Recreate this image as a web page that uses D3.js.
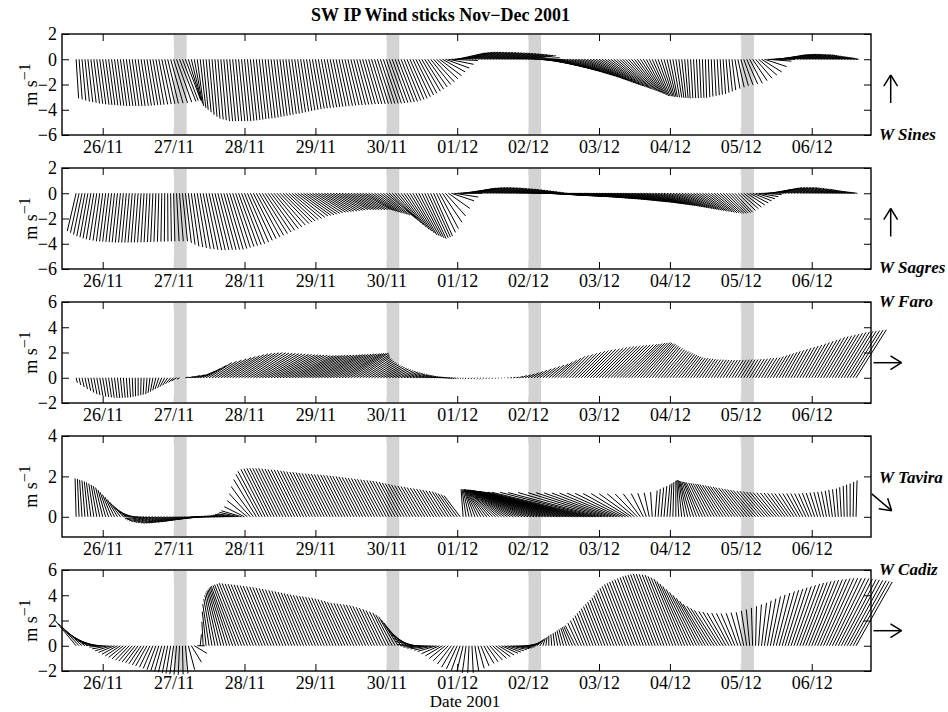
<!DOCTYPE html>
<html>
<head>
<meta charset="utf-8">
<script src="https://cdn.jsdelivr.net/npm/d3@7"></script>
<style>
  body { margin: 0; background: #fff; }
  svg { font-family: "Liberation Serif", "Times New Roman", serif; }
</style>
</head>
<body>
<div class="chart"></div>
<script>
// x axis: day-of-November numbers (31 = 01/12)
const tickDays = [26, 27, 28, 29, 30, 31, 32, 33, 34, 35, 36]
const tickLabels = ["26/11", "27/11", "28/11", "29/11", "30/11", "01/12", "02/12", "03/12", "04/12", "05/12", "06/12"]
const barDays = [27, 30, 32, 35]   // grey bands
const barLength = 0.19             // days
const firstSample = 25 + 15 / 24   // 25/11 15:00, hourly sticks

const stationNames = ["W Sines", "W Sagres", "W Faro", "W Tavira", "W Cadiz"]

// hourly wind components, m/s (u east, v north)
const sinesU = [
  0.2,0.25,0.3,0.35,0.38,0.42,0.45,0.47,0.48,
  0.5,0.5,0.5,0.5,0.5,0.5,0.5,0.51,0.52,0.52,0.53,0.54,0.55,0.57,0.58,0.6,0.62,0.63,0.65,0.7,0.75,0.8,0.85,0.98,
  1.1,1.2,1.3,1.25,1.2,1.0,0.8,0.65,0.5,0.45,0.4,0.4,0.4,0.4,0.4,0.42,0.43,0.45,0.46,0.46,0.47,0.48,0.49,0.49,
  0.5,0.51,0.51,0.52,0.52,0.53,0.53,0.54,0.55,0.56,0.56,0.57,0.57,0.58,0.58,0.59,0.6,0.61,0.62,0.64,0.65,0.66,0.67,0.69,
  0.7,0.71,0.72,0.74,0.75,0.76,0.77,0.79,0.8,0.83,0.85,0.88,0.9,0.93,0.95,0.98,1.0,1.03,1.05,1.08,1.1,1.13,1.15,1.18,
  1.2,1.22,1.24,1.26,1.28,1.3,1.32,1.34,1.36,1.38,1.4,1.43,1.47,1.5,1.55,1.6,1.65,1.7,1.75,1.8,1.9,2.0,2.1,2.2,
  2.23,2.27,2.3,2.3,2.3,2.3,2.3,2.3,2.3,2.3,2.3,2.3,2.29,2.28,2.28,2.27,2.26,2.25,2.25,2.24,2.23,2.22,2.22,2.21,
  2.2,2.27,2.33,2.4,2.47,2.53,2.6,2.67,2.73,2.8,2.87,2.93,3.0,3.03,3.07,3.1,3.13,3.17,3.2,3.17,3.13,3.1,3.07,3.03,
  3.0,2.93,2.87,2.8,2.73,2.67,2.6,2.5,2.4,2.3,2.2,2.1,2.0,1.88,1.77,1.65,1.53,1.42,1.3,1.18,1.07,0.95,0.83,0.72,
  0.6,0.53,0.47,0.4,0.33,0.27,0.2,0.18,0.17,0.15,0.13,0.12,0.1,0.12,0.13,0.15,0.17,0.18,0.2,0.23,0.27,0.3,0.4,0.5,
  0.6,0.73,0.87,1.0,1.15,1.3,1.45,1.6,1.75,1.9,1.95,2.0,2.05,2.1,2.08,2.05,2.03,2.0,1.96,1.91,1.87,1.83,1.79,1.74,
  1.7,1.62,1.53,1.45,1.37,1.28,1.2,1.1,1.0,0.9,0.8,0.7,0.58,0.45,0.33,0.2
]
const sinesV = [
  -3.1,-3.18,-3.27,-3.35,-3.4,-3.45,-3.5,-3.53,-3.57,
  -3.6,-3.62,-3.63,-3.65,-3.67,-3.68,-3.7,-3.7,-3.7,-3.7,-3.7,-3.7,-3.7,-3.68,-3.67,-3.65,-3.63,-3.62,-3.6,-3.58,-3.55,-3.53,-3.5,-3.48,
  -3.45,-3.4,-3.35,-3.28,-3.2,-3.25,-3.3,-3.5,-3.7,-3.85,-4.0,-4.2,-4.4,-4.55,-4.7,-4.77,-4.83,-4.9,-4.9,-4.9,-4.9,-4.9,-4.9,-4.9,
  -4.9,-4.87,-4.84,-4.81,-4.78,-4.74,-4.71,-4.68,-4.65,-4.61,-4.56,-4.52,-4.48,-4.43,-4.39,-4.34,-4.3,-4.25,-4.2,-4.15,-4.1,-4.05,-4.0,-3.95,
  -3.9,-3.88,-3.85,-3.83,-3.8,-3.78,-3.75,-3.73,-3.7,-3.68,-3.66,-3.64,-3.63,-3.61,-3.59,-3.57,-3.55,-3.54,-3.54,-3.53,-3.52,-3.52,-3.51,-3.5,
  -3.5,-3.47,-3.44,-3.41,-3.38,-3.35,-3.27,-3.18,-3.1,-2.97,-2.83,-2.7,-2.53,-2.37,-2.2,-2.0,-1.8,-1.55,-1.3,-1.0,-0.7,-0.4,-0.1,0.25,
  0.5,0.52,0.55,0.56,0.56,0.56,0.55,0.55,0.54,0.54,0.53,0.52,0.51,0.5,0.49,0.48,0.46,0.45,0.43,0.41,0.39,0.37,0.34,0.31,
  0.28,0.12,-0.02,-0.15,-0.27,-0.38,-0.5,-0.58,-0.67,-0.75,-0.83,-0.92,-1.0,-1.08,-1.17,-1.25,-1.33,-1.42,-1.5,-1.58,-1.65,-1.73,-1.8,-1.88,
  -1.95,-2.01,-2.07,-2.13,-2.18,-2.24,-2.3,-2.35,-2.4,-2.45,-2.5,-2.55,-2.6,-2.65,-2.7,-2.75,-2.8,-2.85,-2.9,-2.92,-2.93,-2.95,-2.97,-2.98,
  -3.0,-3.02,-3.03,-3.05,-3.07,-3.08,-3.1,-3.09,-3.08,-3.08,-3.07,-3.06,-3.05,-3.0,-2.95,-2.9,-2.85,-2.8,-2.75,-2.65,-2.55,-2.45,-2.33,-2.22,
  -2.1,-2.03,-1.97,-1.9,-1.7,-1.5,-1.25,-1.0,-0.58,-0.15,0.0,0.15,0.25,0.35,0.36,0.38,0.39,0.4,0.39,0.39,0.38,0.37,0.36,0.36,
  0.35,0.32,0.3,0.27,0.25,0.22,0.2,0.18,0.16,0.14,0.12,0.1,0.08,0.05,0.03,0.0
]
const sagresU = [
  -0.7,-0.68,-0.67,-0.65,-0.63,-0.62,-0.6,-0.57,-0.53,
  -0.5,-0.48,-0.47,-0.45,-0.43,-0.42,-0.4,-0.38,-0.37,-0.35,-0.33,-0.32,-0.3,-0.28,-0.25,-0.23,-0.2,-0.18,-0.15,-0.11,-0.07,-0.03,0.02,0.06,
  0.1,0.2,0.3,0.4,0.47,0.53,0.6,0.67,0.73,0.8,0.87,0.93,1.0,1.05,1.1,1.15,1.2,1.25,1.3,1.35,1.4,1.45,1.5,1.55,
  1.6,1.67,1.73,1.8,1.87,1.93,2.0,2.05,2.1,2.15,2.2,2.25,2.3,2.32,2.33,2.35,2.37,2.38,2.4,2.4,2.4,2.4,2.4,2.4,
  2.4,2.39,2.38,2.36,2.35,2.34,2.33,2.31,2.3,2.29,2.28,2.26,2.25,2.24,2.23,2.21,2.2,2.19,2.18,2.16,2.15,2.14,2.13,2.11,
  2.1,2.08,2.06,2.04,2.02,2.0,1.98,1.95,1.93,1.9,1.85,1.8,1.75,1.7,1.63,1.57,1.5,1.5,1.5,1.55,1.6,1.7,1.8,1.9,
  2.0,2.05,2.1,2.11,2.12,2.13,2.14,2.16,2.17,2.18,2.19,2.2,2.21,2.22,2.22,2.23,2.24,2.25,2.25,2.26,2.27,2.28,2.28,2.29,
  2.3,2.33,2.36,2.39,2.41,2.44,2.47,2.5,2.53,2.56,2.59,2.62,2.65,2.68,2.71,2.74,2.77,2.8,2.82,2.84,2.86,2.88,2.9,2.92,
  2.94,2.96,2.98,3.0,3.0,3.0,3.0,3.0,3.0,3.0,3.0,3.0,3.0,3.0,2.94,2.88,2.82,2.76,2.7,2.64,2.58,2.52,2.46,2.4,
  2.36,2.32,2.28,2.24,2.2,2.16,2.12,2.08,2.04,2.0,1.97,1.93,1.9,1.87,1.83,1.8,1.75,1.7,1.65,1.6,1.53,1.47,1.4,1.4,
  1.4,1.4,1.43,1.47,1.5,1.53,1.57,1.6,1.63,1.67,1.7,1.73,1.77,1.8,1.8,1.8,1.8,1.8,1.8,1.77,1.73,1.7,1.67,1.63,
  1.6,1.52,1.43,1.35,1.27,1.18,1.1,1.0,0.9,0.8,0.7,0.6,0.48,0.35,0.23,0.1
]
const sagresV = [
  -3.0,-3.13,-3.27,-3.4,-3.48,-3.57,-3.65,-3.7,-3.75,
  -3.8,-3.82,-3.83,-3.85,-3.87,-3.88,-3.9,-3.9,-3.9,-3.9,-3.9,-3.9,-3.9,-3.89,-3.88,-3.88,-3.87,-3.86,-3.85,-3.84,-3.83,-3.83,-3.82,-3.81,
  -3.8,-3.8,-3.8,-3.8,-3.93,-4.07,-4.2,-4.27,-4.33,-4.4,-4.43,-4.47,-4.5,-4.5,-4.49,-4.48,-4.47,-4.46,-4.45,-4.38,-4.3,-4.23,-4.15,-4.08,
  -4.0,-3.87,-3.73,-3.6,-3.47,-3.33,-3.2,-3.07,-2.93,-2.8,-2.67,-2.53,-2.4,-2.3,-2.2,-2.1,-2.0,-1.9,-1.8,-1.75,-1.7,-1.65,-1.6,-1.55,
  -1.5,-1.48,-1.45,-1.43,-1.4,-1.38,-1.35,-1.33,-1.3,-1.3,-1.3,-1.3,-1.3,-1.3,-1.3,-1.3,-1.3,-1.36,-1.43,-1.49,-1.56,-1.61,-1.67,-1.74,
  -1.8,-1.98,-2.16,-2.34,-2.52,-2.7,-2.85,-3.0,-3.15,-3.3,-3.38,-3.45,-3.53,-3.6,-3.53,-3.47,-3.4,-3.1,-2.8,-2.3,-1.8,-1.2,-0.6,-0.3,
  0.0,0.15,0.3,0.36,0.4,0.42,0.44,0.45,0.45,0.45,0.44,0.43,0.42,0.4,0.38,0.36,0.34,0.32,0.3,0.27,0.24,0.21,0.18,0.15,
  0.12,0.08,0.04,0.0,-0.04,-0.08,-0.11,-0.15,-0.17,-0.18,-0.2,-0.21,-0.23,-0.24,-0.26,-0.27,-0.29,-0.3,-0.32,-0.34,-0.36,-0.38,-0.4,-0.42,
  -0.44,-0.46,-0.48,-0.5,-0.53,-0.55,-0.58,-0.6,-0.63,-0.65,-0.68,-0.7,-0.73,-0.75,-0.78,-0.8,-0.83,-0.85,-0.88,-0.9,-0.93,-0.95,-0.98,-1.0,
  -1.04,-1.07,-1.11,-1.14,-1.18,-1.21,-1.25,-1.28,-1.32,-1.35,-1.38,-1.42,-1.45,-1.48,-1.52,-1.55,-1.56,-1.58,-1.59,-1.6,-1.57,-1.53,-1.5,-1.37,
  -1.23,-1.1,-0.93,-0.77,-0.6,-0.43,-0.27,-0.1,0.03,0.17,0.3,0.35,0.4,0.45,0.45,0.45,0.45,0.45,0.45,0.43,0.4,0.38,0.35,0.33,
  0.3,0.28,0.25,0.23,0.2,0.18,0.15,0.13,0.12,0.1,0.08,0.07,0.05,0.03,0.02,0.0
]
const faroU = [
  0.1,0.13,0.17,0.2,0.22,0.23,0.25,0.25,0.25,
  0.25,0.24,0.23,0.21,0.2,0.18,0.16,0.14,0.12,0.1,0.07,0.03,0.0,-0.03,-0.07,-0.1,-0.15,-0.2,-0.25,-0.3,-0.33,-0.37,-0.4,-0.4,
  -0.4,-0.4,-0.2,0.0,0.25,0.5,0.67,0.83,1.0,1.2,1.4,1.6,1.8,1.95,2.1,2.25,2.4,2.5,2.6,2.7,2.8,2.85,2.9,2.95,
  3.0,3.03,3.05,3.08,3.1,3.13,3.15,3.18,3.2,3.21,3.23,3.24,3.25,3.26,3.28,3.29,3.3,3.3,3.3,3.3,3.3,3.3,3.3,3.3,
  3.3,3.29,3.28,3.26,3.25,3.24,3.23,3.21,3.2,3.15,3.1,3.05,3.0,2.8,2.6,2.4,2.27,2.13,2.0,1.9,1.8,1.7,1.6,1.53,
  1.45,1.38,1.3,1.25,1.2,1.15,1.1,1.05,1.0,0.95,0.9,0.84,0.78,0.72,0.66,0.6,0.55,0.5,0.45,0.4,0.35,0.3,0.23,0.17,
  0.1,0.03,-0.03,-0.1,-0.1,-0.1,-0.1,-0.1,-0.1,-0.1,-0.08,-0.07,-0.05,-0.03,-0.02,0.0,0.04,0.08,0.12,0.16,0.2,0.28,0.35,0.43,
  0.5,0.6,0.7,0.8,0.9,1.0,1.1,1.2,1.3,1.4,1.5,1.6,1.7,1.78,1.86,1.94,2.02,2.1,2.16,2.21,2.27,2.33,2.39,2.44,
  2.5,2.53,2.55,2.58,2.6,2.63,2.65,2.68,2.7,2.68,2.66,2.64,2.62,2.6,2.5,2.4,2.3,2.2,2.1,2.0,1.93,1.87,1.8,1.73,
  1.65,1.58,1.5,1.43,1.35,1.28,1.2,1.17,1.13,1.1,1.07,1.03,1.0,0.99,0.97,0.96,0.94,0.93,0.91,0.9,0.9,0.9,0.9,0.9,
  0.9,0.9,0.9,0.91,0.93,0.94,0.96,0.97,0.99,1.0,1.03,1.07,1.1,1.13,1.17,1.2,1.25,1.3,1.35,1.4,1.45,1.5,1.57,1.63,
  1.7,1.77,1.83,1.9,1.95,2.0,2.05,2.1,2.15,2.2,2.23,2.27,2.3,2.33,2.37,2.4
]
const faroV = [
  -0.4,-0.57,-0.73,-0.9,-1.03,-1.17,-1.3,-1.37,-1.43,
  -1.5,-1.53,-1.55,-1.58,-1.6,-1.6,-1.59,-1.58,-1.57,-1.55,-1.51,-1.47,-1.43,-1.38,-1.34,-1.3,-1.2,-1.1,-1.0,-0.9,-0.8,-0.7,-0.6,-0.48,
  -0.37,-0.25,-0.12,0.0,0.05,0.1,0.17,0.23,0.3,0.53,0.75,0.98,1.2,1.3,1.4,1.5,1.6,1.68,1.75,1.83,1.9,1.93,1.95,1.98,
  2.0,1.98,1.96,1.94,1.93,1.91,1.89,1.87,1.85,1.84,1.82,1.81,1.8,1.79,1.78,1.76,1.75,1.76,1.76,1.77,1.78,1.78,1.79,1.79,
  1.8,1.81,1.83,1.84,1.85,1.86,1.88,1.89,1.9,1.91,1.93,1.94,1.95,1.83,1.72,1.6,1.5,1.4,1.3,1.21,1.13,1.04,0.95,0.89,
  0.83,0.76,0.7,0.64,0.57,0.51,0.45,0.4,0.35,0.3,0.25,0.22,0.18,0.15,0.11,0.08,0.06,0.04,0.02,0.0,-0.03,-0.05,-0.06,-0.07,
  -0.08,-0.08,-0.09,-0.1,-0.1,-0.1,-0.1,-0.1,-0.1,-0.1,-0.09,-0.08,-0.08,-0.07,-0.06,-0.05,-0.03,-0.01,0.01,0.03,0.05,0.11,0.18,0.24,
  0.3,0.4,0.5,0.6,0.7,0.8,0.9,1.0,1.1,1.25,1.4,1.55,1.7,1.78,1.86,1.94,2.02,2.1,2.15,2.2,2.25,2.3,2.35,2.4,
  2.45,2.48,2.5,2.53,2.55,2.58,2.6,2.63,2.65,2.68,2.71,2.74,2.77,2.8,2.75,2.7,2.65,2.57,2.48,2.4,2.32,2.23,2.15,2.08,
  2.0,1.93,1.85,1.79,1.72,1.66,1.6,1.57,1.55,1.52,1.5,1.47,1.45,1.44,1.43,1.42,1.41,1.4,1.4,1.4,1.41,1.41,1.42,1.43,
  1.44,1.44,1.45,1.47,1.49,1.51,1.54,1.56,1.58,1.6,1.68,1.77,1.85,1.93,2.02,2.1,2.18,2.27,2.35,2.43,2.52,2.6,2.7,2.8,
  2.9,3.0,3.1,3.2,3.27,3.33,3.4,3.47,3.53,3.6,3.63,3.67,3.7,3.73,3.77,3.8
]
const taviraU = [
  -0.05,-0.08,-0.12,-0.15,-0.18,-0.22,-0.25,-0.28,-0.32,
  -0.35,-0.38,-0.42,-0.45,-0.48,-0.5,-0.53,-0.55,-0.58,-0.6,-0.63,-0.65,-0.72,-0.8,-0.84,-0.88,-0.92,-0.96,-1.0,-1.02,-1.03,-1.05,-1.07,-1.08,
  -1.1,-1.08,-1.07,-1.05,-1.03,-1.02,-1.0,-0.98,-0.97,-0.95,-0.93,-0.92,-0.9,-0.88,-0.87,-0.85,-0.83,-0.82,-0.8,-0.83,-0.87,-0.9,-0.95,-1.0,
  -1.0,-1.0,-1.05,-1.1,-1.12,-1.15,-1.2,-1.2,-1.2,-1.2,-1.2,-1.2,-1.2,-1.2,-1.19,-1.18,-1.18,-1.17,-1.16,-1.15,-1.14,-1.14,-1.13,-1.12,
  -1.12,-1.11,-1.11,-1.1,-1.09,-1.09,-1.08,-1.08,-1.07,-1.06,-1.06,-1.05,-1.04,-1.04,-1.03,-1.03,-1.02,-1.01,-1.01,-1.0,-0.99,-0.99,-0.98,-0.98,
  -0.97,-0.96,-0.96,-0.95,-0.94,-0.93,-0.93,-0.92,-0.91,-0.9,-0.89,-0.88,-0.88,-0.87,-0.86,-0.85,-0.84,-0.83,-0.83,-0.82,-0.81,-0.8,-0.8,-0.8,
  -0.8,-0.8,-0.1,-0.2,-0.3,-0.4,-0.52,-0.65,-0.77,-0.9,-1.02,-1.15,-1.27,-1.4,-1.52,-1.65,-1.77,-1.9,-2.02,-2.15,-2.27,-2.4,-2.52,-2.65,
  -2.77,-2.9,-3.02,-3.15,-3.27,-3.4,-3.52,-3.65,-3.77,-3.9,-4.02,-4.15,-4.27,-4.4,-4.52,-4.63,-4.74,-4.85,-4.93,-5.02,-5.1,-5.07,-5.0,-4.75,
  -4.5,-4.15,-3.8,-3.55,-3.3,-3.07,-2.83,-2.6,-2.35,-2.1,-1.85,-1.6,-1.35,-1.1,-0.85,-0.6,-0.42,-0.25,-0.08,0.1,0.11,0.13,0.14,0.15,
  0.1,0.05,0.0,-0.1,-0.2,-0.3,-0.4,-0.5,-0.58,-0.65,-0.73,-0.8,-0.83,-0.87,-0.9,-0.93,-0.97,-1.0,-1.02,-1.03,-1.05,-1.07,-1.08,-1.1,
  -1.1,-1.1,-1.1,-1.1,-1.1,-1.1,-1.08,-1.07,-1.05,-1.03,-1.02,-1.0,-0.97,-0.93,-0.9,-0.87,-0.83,-0.8,-0.75,-0.7,-0.65,-0.6,-0.55,-0.5,
  -0.46,-0.42,-0.38,-0.33,-0.29,-0.25,-0.21,-0.18,-0.14,-0.1,-0.08,-0.05,-0.03,0.0,0.03,0.05
]
const taviraV = [
  1.9,1.87,1.83,1.8,1.75,1.7,1.65,1.58,1.52,
  1.45,1.33,1.22,1.1,0.98,0.85,0.73,0.6,0.48,0.35,0.23,0.1,0.0,-0.1,-0.15,-0.2,-0.23,-0.25,-0.28,-0.29,-0.31,-0.32,-0.31,-0.31,
  -0.3,-0.28,-0.27,-0.25,-0.23,-0.2,-0.18,-0.15,-0.13,-0.1,-0.07,-0.03,0.0,0.01,0.01,0.02,0.03,0.04,0.05,0.08,0.12,0.15,0.22,0.3,
  0.5,0.8,1.15,1.5,1.85,2.1,2.25,2.35,2.38,2.4,2.4,2.4,2.4,2.4,2.38,2.37,2.35,2.33,2.32,2.3,2.28,2.26,2.24,2.22,
  2.21,2.19,2.17,2.15,2.14,2.13,2.11,2.1,2.09,2.08,2.06,2.05,2.03,2.01,2.0,1.98,1.96,1.94,1.92,1.9,1.88,1.86,1.84,1.82,
  1.81,1.79,1.77,1.75,1.72,1.68,1.65,1.62,1.58,1.55,1.53,1.5,1.48,1.45,1.43,1.4,1.38,1.35,1.33,1.3,1.28,1.25,1.2,1.15,
  1.1,1.05,1.36,1.36,1.36,1.36,1.36,1.35,1.35,1.35,1.34,1.34,1.34,1.33,1.33,1.33,1.32,1.32,1.32,1.31,1.31,1.31,1.3,1.3,
  1.3,1.29,1.29,1.29,1.28,1.28,1.28,1.27,1.27,1.27,1.26,1.26,1.26,1.25,1.25,1.25,1.24,1.24,1.23,1.23,1.22,1.22,1.21,1.21,
  1.2,1.2,1.19,1.19,1.18,1.18,1.17,1.17,1.16,1.15,1.15,1.14,1.14,1.13,1.14,1.15,1.17,1.19,1.22,1.3,1.38,1.45,1.52,1.6,
  1.66,1.72,1.78,1.8,1.82,1.8,1.77,1.75,1.74,1.73,1.71,1.7,1.68,1.67,1.65,1.63,1.62,1.6,1.58,1.55,1.53,1.5,1.48,1.45,
  1.43,1.4,1.38,1.35,1.33,1.3,1.28,1.27,1.25,1.23,1.22,1.2,1.19,1.18,1.18,1.17,1.16,1.15,1.15,1.15,1.15,1.15,1.15,1.15,
  1.17,1.18,1.2,1.22,1.23,1.25,1.29,1.33,1.36,1.4,1.46,1.53,1.59,1.65,1.73,1.8
]
const cadizU = [
  -1.66,-1.63,-1.6,-1.6,-1.6,-1.55,-1.5,-1.45,-1.4,
  -1.35,-1.3,-1.3,-1.3,-1.27,-1.23,-1.2,-1.17,-1.13,-1.1,-1.07,-1.03,-1.0,-0.97,-0.93,-0.9,-0.83,-0.77,-0.7,-0.63,-0.57,-0.5,-0.43,-0.37,
  -0.3,-0.2,-0.1,0.05,0.2,0.5,0.8,1.0,0.6,0.1,-0.1,-0.3,-0.5,-0.65,-0.8,-0.95,-1.1,-1.25,-1.4,-1.55,-1.7,-1.8,-1.9,-1.95,
  -2.0,-2.0,-2.0,-2.0,-2.0,-2.0,-2.0,-1.98,-1.97,-1.95,-1.93,-1.92,-1.9,-1.88,-1.87,-1.85,-1.83,-1.82,-1.8,-1.79,-1.78,-1.78,-1.77,-1.76,
  -1.75,-1.74,-1.73,-1.73,-1.72,-1.71,-1.7,-1.68,-1.67,-1.65,-1.63,-1.62,-1.6,-1.58,-1.57,-1.55,-1.53,-1.52,-1.5,-1.48,-1.45,-1.43,-1.4,-1.37,
  -1.33,-1.3,-1.3,-1.3,-1.33,-1.35,-1.4,-1.45,-1.53,-1.6,-1.65,-1.7,-1.7,-1.7,-1.65,-1.6,-1.55,-1.5,-1.43,-1.35,-1.28,-1.2,-1.1,-1.0,
  -0.85,-0.7,-0.5,-0.3,-0.1,0.1,0.3,0.5,0.65,0.8,0.9,1.0,1.1,1.17,1.23,1.3,1.3,1.3,1.3,1.27,1.23,1.2,1.1,1.0,
  0.9,0.8,0.65,0.5,0.35,0.2,0.1,0.0,-0.07,-0.13,-0.2,-0.28,-0.37,-0.45,-0.57,-0.68,-0.8,-0.83,-0.87,-0.9,-0.97,-1.03,-1.1,-1.17,
  -1.23,-1.3,-1.37,-1.43,-1.5,-1.58,-1.67,-1.75,-1.8,-1.85,-1.9,-1.93,-1.97,-2.0,-2.03,-2.05,-2.08,-2.1,-2.13,-2.15,-2.18,-2.2,-2.2,-2.2,
  -2.2,-2.2,-2.2,-2.2,-2.2,-2.2,-2.2,-2.2,-2.17,-2.13,-2.1,-2.07,-2.03,-2.0,-1.93,-1.87,-1.8,-1.7,-1.6,-1.5,-1.37,-1.23,-1.1,-0.93,
  -0.77,-0.6,-0.43,-0.27,-0.1,0.07,0.23,0.4,0.53,0.67,0.8,0.93,1.07,1.2,1.3,1.4,1.5,1.6,1.7,1.8,1.87,1.93,2.0,2.07,
  2.13,2.2,2.27,2.33,2.4,2.47,2.53,2.6,2.65,2.7,2.75,2.78,2.82,2.85,2.86,2.87
]
const cadizV = [
  2.0,1.75,1.5,1.25,1.0,0.78,0.55,0.38,0.2,
  0.05,-0.1,-0.25,-0.4,-0.53,-0.67,-0.8,-0.92,-1.03,-1.15,-1.22,-1.28,-1.35,-1.43,-1.52,-1.6,-1.7,-1.8,-1.9,-1.97,-2.03,-2.1,-2.15,-2.2,
  -2.25,-2.28,-2.3,-2.27,-2.2,-1.9,-1.3,-0.6,0.0,0.9,1.9,2.7,3.3,3.7,4.0,4.2,4.35,4.45,4.55,4.65,4.72,4.78,4.84,4.9,
  4.95,4.93,4.9,4.88,4.85,4.83,4.8,4.77,4.73,4.7,4.67,4.63,4.6,4.55,4.5,4.45,4.4,4.35,4.3,4.25,4.2,4.15,4.1,4.05,
  4.0,3.97,3.93,3.9,3.87,3.83,3.8,3.73,3.67,3.6,3.53,3.47,3.4,3.37,3.33,3.3,3.27,3.23,3.2,3.13,3.05,2.98,2.9,2.8,
  2.7,2.6,2.45,2.3,2.05,1.8,1.5,1.2,0.9,0.6,0.35,0.1,0.0,-0.1,-0.18,-0.25,-0.35,-0.45,-0.63,-0.8,-1.0,-1.2,-1.45,-1.7,
  -1.83,-1.95,-2.05,-2.15,-2.15,-2.15,-2.0,-1.8,-1.6,-1.4,-1.27,-1.13,-1.0,-0.87,-0.73,-0.6,-0.5,-0.4,-0.3,-0.23,-0.17,-0.1,0.0,0.1,
  0.2,0.3,0.4,0.5,0.55,0.6,0.7,0.8,0.9,1.0,1.1,1.2,1.3,1.4,1.47,1.53,1.6,1.8,2.0,2.2,2.39,2.57,2.76,2.94,
  3.11,3.29,3.46,3.63,3.8,4.0,4.2,4.4,4.55,4.7,4.85,4.95,5.05,5.15,5.24,5.33,5.41,5.5,5.55,5.6,5.65,5.7,5.68,5.65,
  5.63,5.6,5.5,5.4,5.3,5.1,4.9,4.7,4.47,4.23,4.0,3.77,3.53,3.3,3.13,2.97,2.8,2.73,2.67,2.6,2.58,2.57,2.55,2.58,
  2.62,2.65,2.77,2.88,3.0,3.13,3.27,3.4,3.57,3.73,3.9,4.03,4.17,4.3,4.4,4.5,4.6,4.7,4.8,4.9,4.97,5.03,5.1,5.15,
  5.2,5.25,5.28,5.32,5.35,5.35,5.35,5.35,5.32,5.28,5.25,5.22,5.18,5.15,5.1,5.06
]

// y limits and tick values per panel
const yLimits = [[-6, 2], [-6, 2], [-2, 6], [-1, 4], [-2, 6]]
const yTickValues = [[-6, -4, -2, 0, 2], [-6, -4, -2, 0, 2], [-2, 0, 2, 4, 6], [0, 2, 4], [-2, 0, 2, 4, 6]]
// orientation of the reference arrow drawn at the right of each panel (degrees, math convention)
const arrowAngles = [90, 90, 0, -40, 0]

const series = [
  {u: sinesU, v: sinesV}, {u: sagresU, v: sagresV}, {u: faroU, v: faroV},
  {u: taviraU, v: taviraV}, {u: cadizU, v: cadizV}
]

// layout
const W = 948, H = 712
const left = 62, right = 871, width = right - left
const panelTop0 = 34, panelStep = 134, panelH = 101
const labelDy = [106, 105, 5, 47, 5]   // station label baseline, from panel top
const arrowDy = [55, 54.5, 60.7, 66.3, 60.7]
const arrowDx = [890.7, 890.7, 887.5, 881.7, 887.5]
const arrowLen = [28, 28, 28, 26, 28]

const svg = d3.select(".chart").append("svg")
  .attr("width", W).attr("height", H)

svg.append("text")
  .attr("x", 440.5).attr("y", 21)
  .attr("text-anchor", "middle")
  .style("font-size", "18px").style("font-weight", "bold")
  .text("SW IP Wind sticks Nov\u2212Dec 2001")

const x = d3.scaleLinear().domain([25.426, 36.836]).range([0, width])

series.forEach((s, p) => {
  const top = panelTop0 + p * panelStep
  const g = svg.append("g").attr("transform", "translate(" + left + "," + top + ")")

  const y = d3.scaleLinear().domain(yLimits[p]).range([panelH, 0])
  const k = y(0) - y(1)   // pixels per m/s, same on both axes

  // ticks (inward), labels on bottom & left only
  g.append("g").attr("class", "ax")
    .attr("transform", "translate(0," + panelH + ")")
    .call(d3.axisBottom(x).tickValues(tickDays).tickSize(-7).tickPadding(5)
      .tickFormat((d, i) => tickLabels[i]))
  g.append("g").attr("class", "ax")
    .call(d3.axisTop(x).tickValues(tickDays).tickSize(-7).tickFormat(""))
  g.append("g").attr("class", "ax")
    .call(d3.axisLeft(y).tickValues(yTickValues[p]).tickSize(-7).tickPadding(5)
      .tickFormat(d3.format("d")))
  g.append("g").attr("class", "ax")
    .attr("transform", "translate(" + width + ",0)")
    .call(d3.axisRight(y).tickValues(yTickValues[p]).tickSize(-7).tickFormat(""))

  g.selectAll(".ax .domain").remove()
  g.selectAll(".ax line").attr("stroke", "#000").attr("stroke-width", 1)
  g.selectAll(".ax text")
    .style("font-family", "'Liberation Serif', serif")
    .style("font-size", "18px").attr("fill", "#000")

  // grey bands
  g.selectAll("rect.bar").data(barDays).join("rect")
    .attr("class", "bar")
    .attr("x", d => x(d))
    .attr("width", d => x(d + barLength) - x(d))
    .attr("y", 0.5).attr("height", panelH - 1)
    .attr("fill", "#d3d3d3").attr("stroke", "#fff").attr("stroke-width", 0.8)

  // wind sticks
  g.selectAll("line.stick").data(s.u).join("line")
    .attr("class", "stick")
    .attr("x1", (d, i) => x(firstSample + i / 24))
    .attr("y1", y(0))
    .attr("x2", (d, i) => x(firstSample + i / 24) + d * k)
    .attr("y2", (d, i) => y(s.v[i]))
    .attr("stroke", "#000").attr("stroke-width", 1)

  // frame
  g.append("rect")
    .attr("width", width).attr("height", panelH)
    .attr("fill", "none").attr("stroke", "#000").attr("stroke-width", 1.4)

  // y label
  const yl = svg.append("text")
    .attr("transform", "translate(37," + (top + panelH / 2) + ") rotate(-90)")
    .attr("text-anchor", "middle")
    .style("font-size", "18px")
  yl.append("tspan").text("m s")
  yl.append("tspan").attr("dy", "-0.45em").style("font-size", "16px").text("\u22121")

  // station label
  svg.append("text")
    .attr("x", 879).attr("y", top + labelDy[p])
    .style("font-size", "17px").style("font-weight", "bold").style("font-style", "italic")
    .text(stationNames[p])

  // direction arrow
  const a = arrowAngles[p] * Math.PI / 180
  const cx = arrowDx[p], cy = top + arrowDy[p], L = arrowLen[p] / 2
  const tx = cx + L * Math.cos(a), ty = cy - L * Math.sin(a)
  const bx = cx - L * Math.cos(a), by = cy + L * Math.sin(a)
  const head = 13, spread = 32 * Math.PI / 180
  const arrow = svg.append("g").attr("stroke", "#000").attr("stroke-width", 1.5).attr("fill", "none")
  arrow.append("line").attr("x1", bx).attr("y1", by).attr("x2", tx).attr("y2", ty)
  ;[-spread, spread].forEach(sp => {
    const b = a + Math.PI + sp
    arrow.append("line").attr("x1", tx).attr("y1", ty)
      .attr("x2", tx + head * Math.cos(b)).attr("y2", ty - head * Math.sin(b))
  })
})

svg.append("text")
  .attr("x", 465).attr("y", 707)
  .attr("text-anchor", "middle")
  .style("font-size", "17px")
  .text("Date 2001")
</script>
</body>
</html>
